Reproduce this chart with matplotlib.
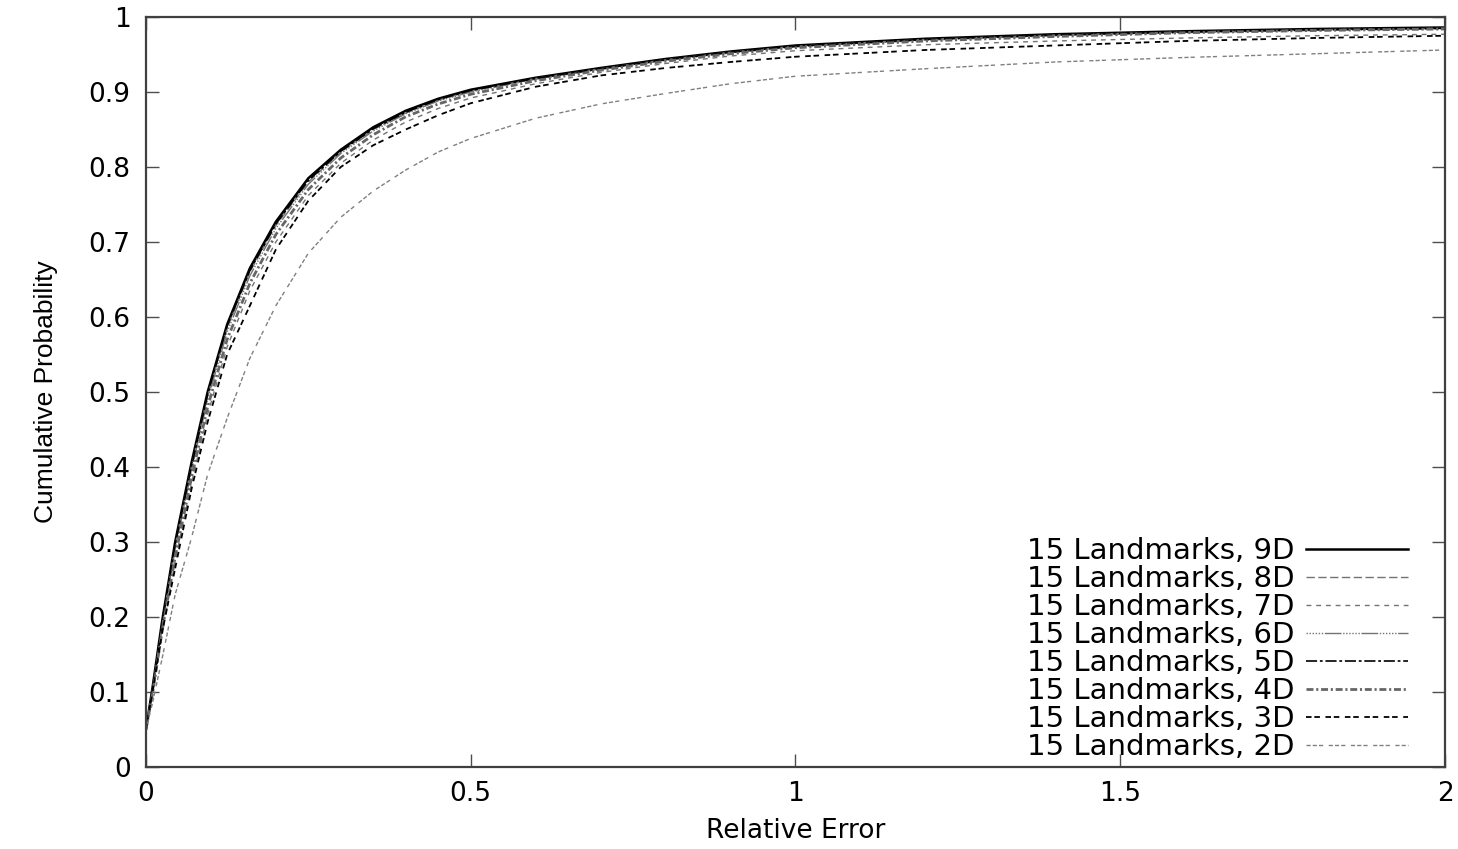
import matplotlib
matplotlib.use('Agg')
import matplotlib.pyplot as plt

plt.rcParams['lines.scale_dashes'] = False

# relative error grid and cumulative probability per dimension
x_err = [0, 0.01, 0.025, 0.045, 0.07, 0.095, 0.125, 0.16, 0.2, 0.25, 0.3, 0.35,
         0.4, 0.45, 0.5, 0.6, 0.7, 0.8, 0.9, 1.0, 1.2, 1.4, 1.6, 1.8, 2.0]

cdf_9d = [0.05, 0.105, 0.195, 0.30, 0.405, 0.50, 0.59, 0.665, 0.727, 0.785, 0.823, 0.853,
          0.875, 0.891, 0.903, 0.919, 0.932, 0.944, 0.954, 0.962, 0.971, 0.977, 0.981, 0.984, 0.986]
cdf_8d = [0.05, 0.10, 0.19, 0.295, 0.40, 0.495, 0.585, 0.66, 0.722, 0.78, 0.82, 0.850,
          0.872, 0.889, 0.901, 0.918, 0.931, 0.943, 0.953, 0.961, 0.970, 0.976, 0.980, 0.983, 0.985]
cdf_7d = [0.05, 0.095, 0.178, 0.275, 0.378, 0.47, 0.56, 0.635, 0.70, 0.762, 0.805, 0.836,
          0.860, 0.878, 0.892, 0.911, 0.926, 0.938, 0.948, 0.955, 0.963, 0.968, 0.972, 0.975, 0.977]
cdf_6d = [0.05, 0.10, 0.188, 0.29, 0.395, 0.49, 0.58, 0.655, 0.718, 0.777, 0.818, 0.848,
          0.871, 0.888, 0.900, 0.917, 0.930, 0.942, 0.952, 0.960, 0.969, 0.975, 0.979, 0.982, 0.984]
cdf_5d = [0.05, 0.102, 0.192, 0.297, 0.40, 0.497, 0.588, 0.662, 0.724, 0.782, 0.821, 0.851,
          0.873, 0.890, 0.902, 0.918, 0.931, 0.943, 0.953, 0.961, 0.970, 0.976, 0.980, 0.983, 0.985]
cdf_4d = [0.05, 0.097, 0.182, 0.28, 0.385, 0.48, 0.57, 0.645, 0.71, 0.77, 0.812, 0.843,
          0.867, 0.884, 0.897, 0.915, 0.929, 0.941, 0.951, 0.959, 0.968, 0.974, 0.979, 0.982, 0.984]
cdf_3d = [0.05, 0.10, 0.18, 0.265, 0.37, 0.46, 0.55, 0.615, 0.69, 0.755, 0.80, 0.829,
          0.850, 0.869, 0.885, 0.907, 0.922, 0.932, 0.94, 0.947, 0.956, 0.962, 0.968, 0.972, 0.975]
cdf_2d = [0.05, 0.085, 0.145, 0.23, 0.305, 0.39, 0.465, 0.545, 0.615, 0.685, 0.733, 0.768,
          0.796, 0.82, 0.838, 0.865, 0.884, 0.898, 0.911, 0.921, 0.931, 0.94, 0.946, 0.951, 0.956]

labels = ['15 Landmarks, 9D', '15 Landmarks, 8D', '15 Landmarks, 7D', '15 Landmarks, 6D',
          '15 Landmarks, 5D', '15 Landmarks, 4D', '15 Landmarks, 3D', '15 Landmarks, 2D']
series = [cdf_9d, cdf_8d, cdf_7d, cdf_6d, cdf_5d, cdf_4d, cdf_3d, cdf_2d]

styles = [
    dict(color='black', lw=1.8, ls='-'),
    dict(color='0.45', lw=1.0, ls=(0, (6, 2.5))),
    dict(color='0.45', lw=1.0, ls=(0, (3.5, 3.5))),
    dict(color='0.45', lw=1.0, ls=(0, (1, 1.2, 1, 1.2, 1, 1.2, 1, 1.2, 1, 1.2, 1, 1.2, 12, 1.2))),
    dict(color='black', lw=1.2, ls=(0, (8, 2, 2, 2))),
    dict(color='0.4', lw=2.0, ls=(0, (5, 2, 1.5, 2))),
    dict(color='black', lw=1.3, ls=(0, (4, 2, 4, 4))),
    dict(color='0.5', lw=1.0, ls=(0, (3, 1.5, 3, 1.5, 3, 4))),
]

fig = plt.figure(figsize=(14.58, 8.49), dpi=100)
ax = fig.add_axes([0.1001, 0.0966, 0.891, 0.8834])

for y, lab, st in zip(series, labels, styles):
    ax.plot(x_err, y, label=lab, color=st['color'], linewidth=st['lw'], linestyle=st['ls'])

ax.set_xlim(0, 2)
ax.set_ylim(0, 1)
ax.set_xticks([0, 0.5, 1, 1.5, 2])
ax.set_xticklabels(['0', '0.5', '1', '1.5', '2'])
ax.set_yticks([i / 10 for i in range(11)])
ax.set_yticklabels(['0', '0.1', '0.2', '0.3', '0.4', '0.5', '0.6', '0.7', '0.8', '0.9', '1'])
ax.tick_params(direction='in', length=9.5, width=1.0, top=True, right=True,
               labelsize=19, color='0.3')
ax.tick_params(axis='y', pad=11)
ax.tick_params(axis='x', pad=10)
for sp in ax.spines.values():
    sp.set_linewidth(1.6)
    sp.set_color('0.25')

ax.set_xlabel('Relative Error', fontsize=19, labelpad=8)
ax.set_ylabel('Cumulative Probability', fontsize=19, family='Liberation Sans', labelpad=22)

ax.legend(loc='lower right', bbox_to_anchor=(0.9715, 0.008), frameon=False, fontsize=21,
          markerfirst=False, handlelength=3.5, handletextpad=0.4, labelspacing=0.0,
          borderpad=0, borderaxespad=0)

fig.savefig('out.png', dpi=100)
